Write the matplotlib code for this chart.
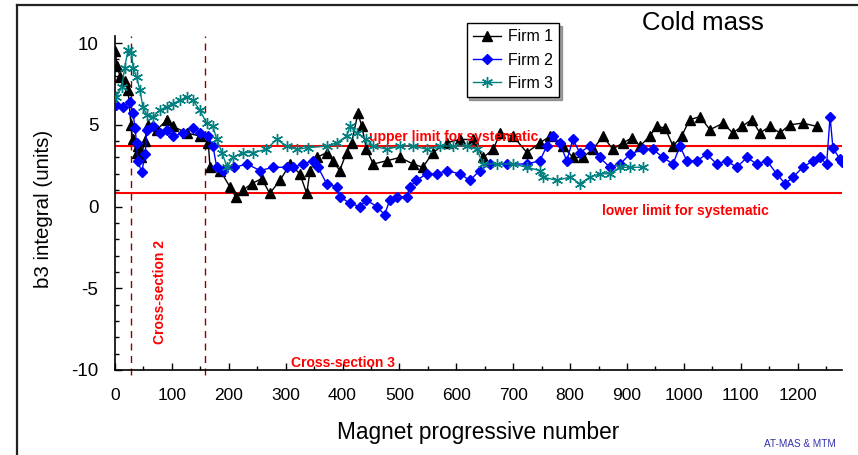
import matplotlib
matplotlib.use("Agg")
import matplotlib.pyplot as plt
from matplotlib.lines import Line2D
import matplotlib.ticker as mticker

plt.rcParams['font.family'] = ['Liberation Sans', 'DejaVu Sans']
plt.rcParams['axes.unicode_minus'] = False

# ---- data ----
firm1_x = [0, 4, 9, 17, 23, 28, 31, 38, 41, 46, 52, 58, 74, 91, 102, 126, 150, 164, 167, 185, 202, 212,
           225, 240, 258, 272, 290, 308, 325, 337, 343, 355, 372, 383, 395, 407, 416, 427, 434, 442, 454,
           478, 501, 524, 541, 559, 583, 606, 629, 647, 665, 677, 700, 724, 747, 765, 787, 805, 822, 840,
           858, 875, 893, 909, 923, 940, 952, 967, 981, 996, 1010, 1028, 1046, 1069, 1086, 1102, 1119,
           1134, 1151, 1169, 1186, 1209, 1234]
firm1_y = [9.5, 8.6, 7.9, 7.7, 7.1, 5.0, 4.1, 3.3, 3.7, 3.0, 4.0, 5.0, 4.7, 5.3, 4.9, 4.5, 4.3, 3.9, 2.4, 2.2,
           1.2, 0.6, 1.0, 1.4, 1.7, 0.8, 1.6, 2.6, 2.0, 0.8, 2.2, 3.0, 3.3, 2.8, 2.2, 3.3, 3.9, 5.7, 4.9, 3.5,
           2.6, 2.8, 3.0, 2.6, 2.4, 3.3, 3.9, 4.1, 4.1, 3.0, 3.5, 4.5, 4.3, 3.3, 3.9, 4.3, 3.7, 3.0, 3.0, 3.5,
           4.3, 3.5, 3.9, 4.2, 3.7, 4.3, 4.9, 4.8, 3.7, 4.3, 5.3, 5.5, 4.7, 5.1, 4.5, 4.9, 5.3,
           4.5, 4.9, 4.5, 5.0, 5.1, 4.9]

firm2_x = [2, 14, 26, 32, 35, 38, 40, 47, 53, 56, 67, 79, 91, 102, 120, 137, 149, 164, 172, 179, 190, 210,
           232, 255, 278, 302, 313, 330, 348, 357, 372, 390, 395, 413, 430, 442, 460, 474, 483, 495, 513,
           518, 530, 548, 566, 583, 606, 624, 641, 659, 689, 724, 747, 759, 770, 782, 794, 805, 817, 835,
           852, 870, 888, 905, 928, 946, 963, 981, 993, 1005, 1023, 1040, 1058, 1075, 1093, 1111, 1128,
           1146, 1163, 1178, 1192, 1209, 1227, 1239, 1251, 1257, 1262, 1274, 1278]
firm2_y = [6.2, 6.1, 6.4, 5.7, 4.8, 3.9, 2.8, 2.1, 3.2, 4.7, 4.9, 4.5, 4.7, 4.3, 4.5, 4.8, 4.5, 4.3, 3.7, 2.4,
           2.2, 2.4, 2.6, 2.2, 2.4, 2.4, 2.4, 2.6, 2.8, 2.4, 1.4, 1.2, 0.6, 0.2, 0.0, 0.4, 0.0, -0.5, 0.4,
           0.6, 0.6, 1.2, 1.6, 2.0, 2.0, 2.2, 2.0, 1.6, 2.2, 2.6, 2.6, 2.6, 2.8, 3.7, 4.3, 3.9, 2.8, 4.1,
           3.3, 3.7, 3.0, 2.4, 2.6, 3.2, 3.5, 3.5, 3.0, 2.6, 3.7, 2.8, 2.8, 3.2, 2.6, 2.8, 2.4, 3.0, 2.6,
           2.8, 2.0, 1.4, 1.8, 2.4, 2.8, 3.0, 2.6, 5.5, 3.6, 2.9, 2.7]

firm3_x = [2, 12, 17, 23, 29, 32, 38, 44, 49, 56, 67, 79, 91, 102, 114, 126, 137, 149, 161, 172, 179, 188,
           197, 207, 225, 243, 266, 284, 302, 320, 340, 372, 390, 407, 413, 425, 442, 454, 478, 501, 524,
           548, 571, 594, 618, 636, 647, 671, 700, 724, 747, 752, 777, 800, 817, 835, 852, 870, 888, 905, 928]
firm3_y = [6.7, 7.3, 8.5, 9.6, 9.4, 8.5, 7.9, 7.1, 6.1, 5.6, 5.5, 5.9, 6.1, 6.3, 6.5, 6.7, 6.5, 5.9, 5.1, 4.9,
           4.1, 3.3, 2.4, 3.0, 3.3, 3.3, 3.5, 4.1, 3.7, 3.5, 3.6, 3.7, 3.9, 4.3, 4.9, 4.5, 4.1, 3.7, 3.5, 3.7,
           3.7, 3.5, 3.7, 3.7, 3.7, 3.5, 2.6, 2.6, 2.6, 2.4, 2.2, 1.8, 1.6, 1.8, 1.4, 1.8, 2.0, 2.0, 2.4, 2.4, 2.4]

series_labels = ["Firm 1", "Firm 2", "Firm 3"]
upper_limit = 3.72
lower_limit = 0.85
section_lines = [29, 159]

fig = plt.figure(figsize=(8.58, 4.55), dpi=100)
ax = fig.add_axes([115/858, 85/455, 727/858, 334/455])

ax.plot(firm1_x, firm1_y, color='black', marker='^', markersize=7, lw=1.0, label=series_labels[0], zorder=3)
ax.plot(firm2_x, firm2_y, color='#0000ff', marker='D', markersize=5.5, lw=1.0, label=series_labels[1], zorder=4)
ax.plot(firm3_x, firm3_y, color='#008080', marker=(6, 2, 0), markersize=8, lw=1.0, label=series_labels[2], zorder=5)

ax.axhline(upper_limit, color='#ff0000', lw=1.5, zorder=2)
ax.axhline(lower_limit, color='#ff0000', lw=1.5, zorder=2)
for xv in section_lines:
    ax.axvline(xv, ymin=-0.015, ymax=1, color='#8b0000', lw=1.0, ls=(0, (5, 4)), clip_on=False, zorder=1)

ax.set_xlim(0, 1278)
ax.set_ylim(-10, 10.43)
ax.xaxis.set_major_locator(mticker.MultipleLocator(100))
ax.xaxis.set_minor_locator(mticker.MultipleLocator(50))
ax.yaxis.set_major_locator(mticker.FixedLocator([-10, -5, 0, 5, 10]))
ax.yaxis.set_minor_locator(mticker.MultipleLocator(1))
ax.tick_params(axis='both', which='both', direction='in', color='black', width=1)
ax.tick_params(axis='both', which='major', length=5)
ax.tick_params(axis='both', which='minor', length=3)
ax.tick_params(axis='x', labelsize=12.5, pad=13)
ax.tick_params(axis='y', labelsize=13.5, pad=12)
for s in ['top', 'right']:
    ax.spines[s].set_visible(False)
for s in ['left', 'bottom']:
    ax.spines[s].set_linewidth(1.2)

ax.set_ylabel("b3 integral (units)", fontsize=14.8, va='center')
ax.yaxis.set_label_coords(-0.099, 0.482)
ax.set_xlabel("Magnet progressive number", fontsize=16.3, va='center')
ax.xaxis.set_label_coords(0.5, -0.186)

tkw = dict(color='#ff0000', fontweight='bold', fontsize=10, ha='center', va='center')
ax.text(596, 4.25, "upper limit for systematic", **tkw)
ax.text(1002, -0.28, "lower limit for systematic", **tkw)
ax.text(79, -5.23, "Cross-section 2", rotation=90, **tkw)
ax.text(401, -9.57, "Cross-section 3", **tkw)

leg = ax.legend(loc='upper right', bbox_to_anchor=(559/858, 1-23/455), bbox_transform=fig.transFigure,
                fontsize=11.4, frameon=True, fancybox=False, shadow=True, edgecolor='black',
                framealpha=1, handlelength=1.8, labelspacing=0.52, borderpad=0.4, handletextpad=0.4,
                borderaxespad=0)
leg.get_frame().set_linewidth(1.0)

fig.text(703/858, 1-23/455, "Cold mass", fontsize=18.5, ha='center', va='center')
fig.text(800/858, 1-444/455, "AT-MAS & MTM", fontsize=7.2, color='#3333aa', ha='center', va='center')

# outer frame (top and left border)
fig.add_artist(Line2D([17/858, 1], [1-5/455, 1-5/455], color='#222222', lw=1.6, transform=fig.transFigure))
fig.add_artist(Line2D([17/858, 17/858], [0, 1-5/455], color='#222222', lw=1.6, transform=fig.transFigure))

fig.savefig("out.png", dpi=100)
